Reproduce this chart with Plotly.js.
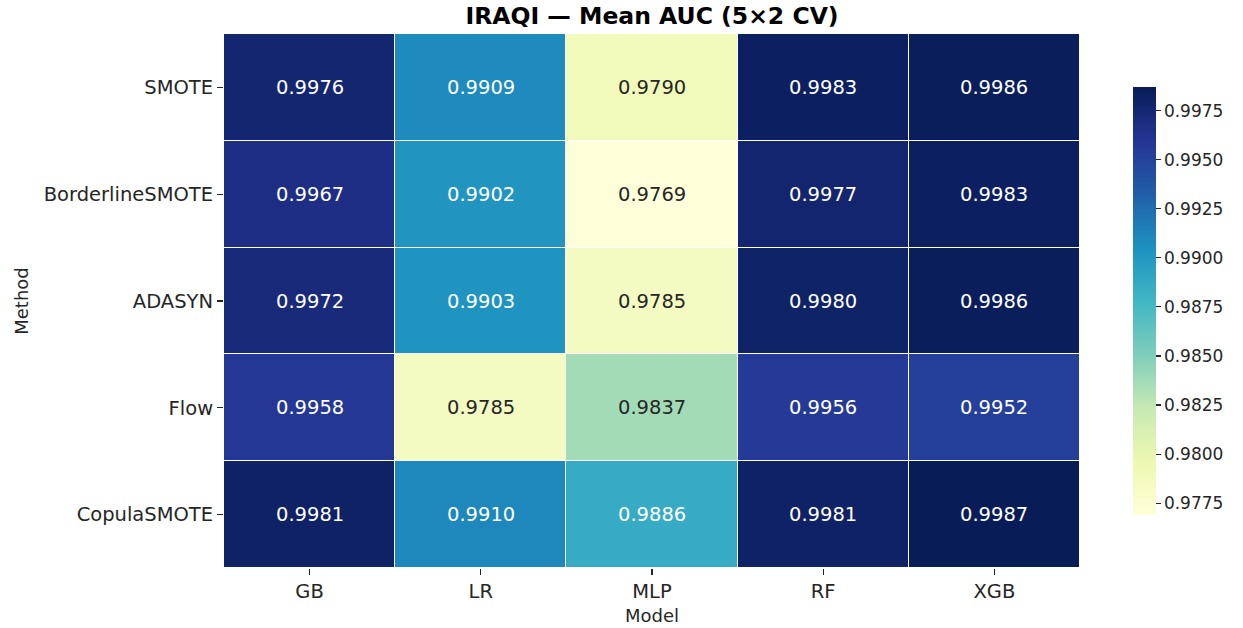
<!DOCTYPE html>
<html>
<head>
<meta charset="utf-8">
<script src="https://cdn.plot.ly/plotly-3.0.1.min.js"></script>
<style>
  html, body { margin: 0; padding: 0; background: #ffffff; }
  #chart { width: 1243px; height: 628px; }
</style>
</head>
<body>
<div id="chart"></div>
<script>
// Mean AUC per oversampling method (rows) and model (columns)
const models = ["GB", "LR", "MLP", "RF", "XGB"];
const methods = ["SMOTE", "BorderlineSMOTE", "ADASYN", "Flow", "CopulaSMOTE"];

const aucSMOTE = [0.9976, 0.9909, 0.9790, 0.9983, 0.9986];
const aucBorderline = [0.9967, 0.9902, 0.9769, 0.9977, 0.9983];
const aucADASYN = [0.9972, 0.9903, 0.9785, 0.9980, 0.9986];
const aucFlow = [0.9958, 0.9785, 0.9837, 0.9956, 0.9952];
const aucCopula = [0.9981, 0.9910, 0.9886, 0.9981, 0.9987];

const z = [aucSMOTE, aucBorderline, aucADASYN, aucFlow, aucCopula];

// Yellow-green-blue sequential palette
const ylgnbu = ["#ffffd9", "#edf8b1", "#c7e9b4", "#7fcdbb", "#41b6c4",
                "#1d91c0", "#225ea8", "#253494", "#081d58"];
const colorscale = ylgnbu.map((c, i) => [i / (ylgnbu.length - 1), c]);

const flat = z.flat();
const zmin = Math.min(...flat);
const zmax = Math.max(...flat);

function hexToRgb(h) {
  return [1, 3, 5].map(i => parseInt(h.slice(i, i + 2), 16) / 255);
}
function colorAt(v) {
  const t = (v - zmin) / (zmax - zmin);
  const pos = t * (ylgnbu.length - 1);
  const i = Math.min(Math.floor(pos), ylgnbu.length - 2);
  const f = pos - i;
  const a = hexToRgb(ylgnbu[i]), b = hexToRgb(ylgnbu[i + 1]);
  return a.map((c, k) => c + (b[k] - c) * f);
}
function luminance(rgb) {
  const lin = rgb.map(c => c <= 0.03928 ? c / 12.92 : Math.pow((c + 0.055) / 1.055, 2.4));
  return 0.2126 * lin[0] + 0.7152 * lin[1] + 0.0722 * lin[2];
}

const FONT = "DejaVu Sans";
const annotations = [];
methods.forEach((m, r) => {
  models.forEach((mod, c) => {
    const v = z[r][c];
    annotations.push({
      x: mod, y: m, xref: "x", yref: "y",
      text: v.toFixed(4),
      showarrow: false,
      font: { family: FONT, size: 19.5,
              color: luminance(colorAt(v)) > 0.408 ? "#262626" : "#ffffff" }
    });
  });
});

const trace = {
  type: "heatmap",
  x: models,
  y: methods,
  z: z,
  zmin: zmin,
  zmax: zmax,
  colorscale: colorscale,
  xgap: 1,
  ygap: 1,
  hoverinfo: "x+y+z",
  colorbar: {
    x: 1.062, xanchor: "left", xpad: 0,
    y: 0.5, yanchor: "middle", ypad: 0,
    len: 0.801, lenmode: "fraction",
    thickness: 23,
    outlinewidth: 0,
    ticks: "outside", ticklen: 5, tickwidth: 1.2, tickcolor: "#262626",
    tick0: 0.9775, dtick: 0.0025, tickmode: "linear",
    tickformat: ".4f",
    tickfont: { family: FONT, size: 17, color: "#262626" }
  }
};

const layout = {
  width: 1243, height: 628,
  margin: { l: 224, r: 163, t: 34, b: 60 },
  paper_bgcolor: "#ffffff",
  plot_bgcolor: "#ffffff",
  title: {
    text: "<b>IRAQI — Mean AUC (5×2 CV)</b>",
    x: 0.5 * (224 + 1080) / 1243, xanchor: "center",
    y: 1 - 16 / 628, yanchor: "middle",
    font: { family: FONT, size: 23.5, color: "#000000" }
  },
  xaxis: {
    type: "category",
    showgrid: false, zeroline: false, showline: false,
    ticks: "outside", ticklen: 6, tickwidth: 1.2, tickcolor: "#262626",
    tickfont: { family: FONT, size: 19.5, color: "#262626" },
    title: { text: "Model", standoff: 6,
             font: { family: FONT, size: 18, color: "#262626" } }
  },
  yaxis: {
    type: "category",
    autorange: "reversed",
    showgrid: false, zeroline: false, showline: false,
    ticks: "outside", ticklen: 6, tickwidth: 1.2, tickcolor: "#262626",
    tickfont: { family: FONT, size: 19.5, color: "#262626" },
    title: { text: "Method", standoff: 10,
             font: { family: FONT, size: 18, color: "#262626" } }
  },
  annotations: annotations
};

Plotly.newPlot("chart", [trace], layout, { displayModeBar: false, staticPlot: true });
</script>
</body>
</html>
